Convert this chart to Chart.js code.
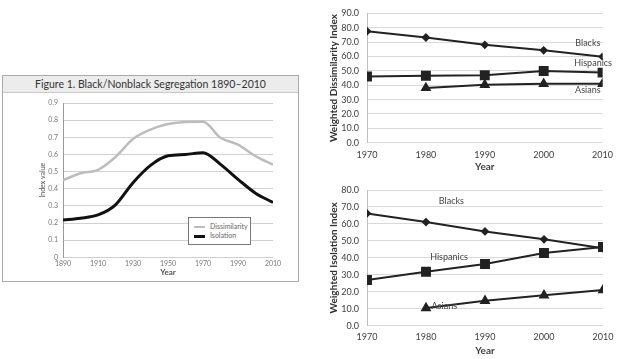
<!DOCTYPE html>
<html><head><meta charset="utf-8">
<script src="https://cdn.jsdelivr.net/npm/chart.js@4.4.0/dist/chart.umd.min.js"></script>
<style>
html,body{margin:0;padding:0;background:#fff;width:620px;height:359px;overflow:hidden;position:relative;font-family:Lato,sans-serif}
#frame{position:absolute;left:2px;top:75px;width:295px;height:205px;border:1px solid #aaa;background:#fff}
#ttl{position:absolute;left:0;top:0;width:295px;height:17px;background:#ececec;border-bottom:1px solid #c8c8c8;text-align:center;font:10.5px Lato,sans-serif;line-height:17px;color:#333;box-sizing:border-box}
#c1{position:absolute;left:0;top:17px}
#c2{position:absolute;left:320px;top:0}
#c3{position:absolute;left:320px;top:176px}
#leg{position:absolute;left:188px;top:217px;width:61px;height:26px;border:1px solid #777;background:#fff;font:7px Lato,sans-serif;color:#666}
.row{position:absolute;left:5px;height:9px;line-height:9px;white-space:nowrap}
.sw{display:inline-block;width:11px;height:2px;vertical-align:middle;margin-right:5px}
</style></head>
<body>
<div id="frame">
  <div id="ttl">Figure 1. Black/Nonblack Segregation 1890–2010</div>
  <canvas id="c1" width="295" height="188"></canvas>
</div>
<div id="leg">
  <div class="row" style="top:4px"><span class="sw" style="background:#bdbdbd"></span>Dissimilarity</div>
  <div class="row" style="top:13px"><span class="sw" style="background:#111;height:3px"></span>Isolation</div>
</div>
<canvas id="c2" width="300" height="174"></canvas>
<canvas id="c3" width="300" height="183"></canvas>
<script>
// ---- Data ----
const years1 = [1890,1900,1910,1920,1930,1940,1950,1960,1970,1980,1990,2000,2010];
const tickYears1 = [1890,1910,1930,1950,1970,1990,2010];
const dissimilarity = [0.45,0.49,0.51,0.585,0.69,0.745,0.777,0.789,0.79,0.697,0.657,0.59,0.54];
const isolation = [0.218,0.228,0.247,0.306,0.435,0.536,0.592,0.60,0.61,0.542,0.455,0.374,0.32];

const years2 = [1970,1980,1990,2000,2010];
const dissBlacks = [77.6,73.2,68.1,64.3,59.9];
const dissHispanics = [46.1,46.6,47.0,49.9,48.8];
const dissAsians = [null,38.1,40.3,41.0,41.0];
const isoBlacks = [66.2,61.1,55.6,50.9,45.6];
const isoHispanics = [26.9,31.8,36.4,42.9,46.4];
const isoAsians = [null,10.4,14.7,17.9,21.0];

const pts = (xs, ys) => xs.map((x,i)=>({x:x, y:ys[i]}));

const textLabels = {
  id:'textLabels',
  afterDatasetsDraw(chart, args, opts){
    if(!opts || !opts.items) return;
    const {ctx, scales:{x,y}} = chart;
    ctx.save();
    ctx.font = opts.font; ctx.fillStyle = opts.color;
    ctx.textAlign='center'; ctx.textBaseline='middle';
    opts.items.forEach(it => ctx.fillText(it.text, x.getPixelForValue(it.x), y.getPixelForValue(it.y)));
    ctx.restore();
  }
};
Chart.register(textLabels);

// ---- Left chart ----
new Chart(document.getElementById('c1'), {
  type:'line',
  data:{datasets:[
    {label:'Dissimilarity', data:pts(years1,dissimilarity), borderColor:'#bdbdbd', borderWidth:2.5, pointRadius:0, cubicInterpolationMode:'monotone'},
    {label:'Isolation', data:pts(years1,isolation), borderColor:'#111', borderWidth:3, pointRadius:0, cubicInterpolationMode:'monotone'}
  ]},
  options:{
    responsive:false, animation:false, events:[],
    layout:{padding:{left:34,right:25,top:10,bottom:0}},
    plugins:{legend:{display:false}, tooltip:{enabled:false}, title:{display:false}},
    scales:{
      x:{type:'linear', min:1890, max:2010,
        afterBuildTicks:s=>{s.ticks = tickYears1.map(v=>({value:v}));},
        afterFit:s=>{s.height = 23.7;},
        grid:{display:false, drawTicks:false}, border:{display:false},
        ticks:{font:{family:'Lato',size:7}, color:'#777', padding:2, maxRotation:0, callback:v=>String(v)},
        title:{display:true, text:'Year', font:{family:'Lato',size:8,weight:'bold'}, color:'#555', padding:{top:0,bottom:4}}
      },
      y:{min:0, max:0.9,
        afterFit:s=>{s.width = 26;},
        grid:{color:'#d0d0d0', drawTicks:false, lineWidth:1},
        border:{display:true, color:'#999'},
        ticks:{stepSize:0.1, font:{family:'Lato',size:7}, color:'#777', padding:5, callback:v=> v===0?'0':v.toFixed(1)},
        title:{display:true, text:'Index value', font:{family:'Lato',size:7}, color:'#555', padding:{top:2,bottom:0}}
      }
    }
  }
});

// ---- Right charts ----
function rightChart(id, b, h, a, yMax, yTitle, labels, padTop, tickPad, xTitlePad, xHeight){
  const blackStyle = {borderColor:'#222', backgroundColor:'#222', borderWidth:2, tension:0};
  return new Chart(document.getElementById(id), {
    type:'line',
    data:{datasets:[
      Object.assign({label:'Blacks', data:pts(years2,b), pointStyle:'rectRot', pointRadius:3}, blackStyle),
      Object.assign({label:'Hispanics', data:pts(years2,h), pointStyle:'rect', pointRadius:5.6}, blackStyle),
      Object.assign({label:'Asians', data:pts(years2,a), pointStyle:'triangle', pointRadius:4.3}, blackStyle)
    ]},
    options:{
      responsive:false, animation:false, events:[],
      layout:{padding:{left:8,right:17,top:padTop,bottom:0}},
      plugins:{legend:{display:false}, tooltip:{enabled:false},
        textLabels:{font:'9px Lato', color:'#444', items:labels}},
      scales:{
        x:{type:'linear', min:1970, max:2010,
          afterFit:s=>{s.height = xHeight;},
          grid:{display:false, drawTicks:false}, border:{display:false},
          ticks:{stepSize:10, font:{family:'Lato',size:9}, color:'#404040', padding:tickPad, maxRotation:0, callback:v=>String(v)},
          title:{display:true, text:'Year', font:{family:'Lato',size:10,weight:'bold'}, color:'#404040', padding:{top:0,bottom:xTitlePad}}
        },
        y:{min:0, max:yMax,
          afterFit:s=>{s.width = 39;},
          grid:{color:'#d9d9d9', drawTicks:false},
          border:{display:true, color:'#bfbfbf'},
          ticks:{stepSize:10, font:{family:'Lato',size:9}, color:'#404040', padding:8, callback:v=>v.toFixed(1)},
          title:{display:true, text:yTitle, font:{family:'Lato',size:10,weight:'bold'}, color:'#333', padding:{top:0,bottom:0}}
        }
      }
    }
  });
}

rightChart('c2', dissBlacks, dissHispanics, dissAsians, 90, 'Weighted Dissimilarity Index',
  [{text:'Blacks',x:2007.5,y:69.6},{text:'Hispanics',x:2008.4,y:55.6},{text:'Asians',x:2007.5,y:36.3}],
  7, 7, 1, 31.3);
rightChart('c3', isoBlacks, isoHispanics, isoAsians, 80, 'Weighted Isolation Index',
  [{text:'Blacks',x:1984.3,y:73.5},{text:'Hispanics',x:1983.9,y:40.5},{text:'Asians',x:1983.1,y:11.6}],
  14, 6, 2, 33.3);
</script>
</body></html>
